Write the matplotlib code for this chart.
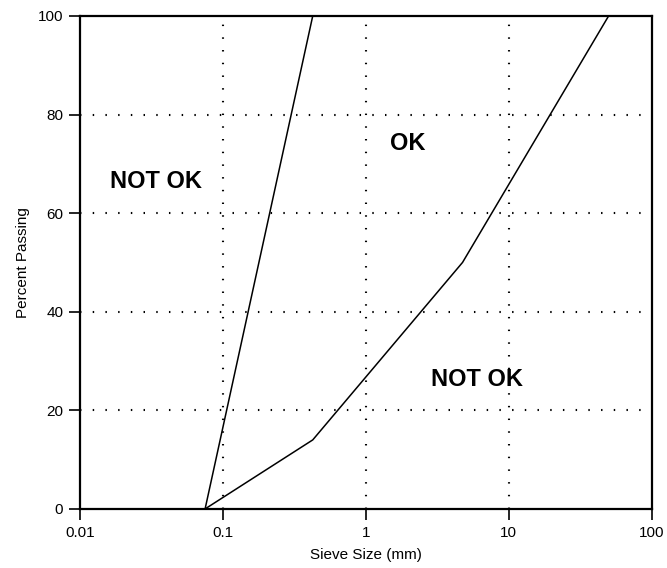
import matplotlib
matplotlib.use("Agg")
import matplotlib.pyplot as plt

plt.rcParams['font.family'] = ['Liberation Sans', 'DejaVu Sans']

# grading envelope (sieve size mm, percent passing)
fine_size = [0.075, 0.425]
fine_pass = [0, 100]
coarse_size = [0.075, 0.425, 4.75, 50]
coarse_pass = [0, 14, 50, 100]

zone_labels = ["NOT OK", "OK", "NOT OK"]
zone_x = [0.034, 1.95, 5.96]
zone_y = [66.5, 74.2, 26.2]

x_ticks = [0.01, 0.1, 1, 10, 100]
x_tick_labels = ["0.01", "0.1", "1", "10", "100"]
y_ticks = [0, 20, 40, 60, 80, 100]

fig = plt.figure(figsize=(6.67, 5.68), dpi=100)
ax = fig.add_axes([0.12, 0.104, 0.857, 0.868])

ax.set_xscale("log")
ax.set_xlim(0.01, 100)
ax.set_ylim(0, 100)

dots = (0, (0.7, 5.4))
for gx in [0.1, 1, 10]:
    ax.axvline(gx, color="black", lw=1.5, ls=dots, zorder=1)
for gy in [20, 40, 60, 80]:
    ax.axhline(gy, color="black", lw=1.5, ls=dots, zorder=1)

ax.plot(fine_size, fine_pass, color="black", lw=1.1, zorder=3)
ax.plot(coarse_size, coarse_pass, color="black", lw=1.1, zorder=3)

for lab, tx, ty in zip(zone_labels, zone_x, zone_y):
    ax.text(tx, ty, lab, ha="center", va="center", fontsize=17, fontweight="bold")

ax.set_xticks(x_ticks)
ax.set_xticklabels(x_tick_labels)
ax.minorticks_off()
ax.set_yticks(y_ticks)
ax.tick_params(axis="both", direction="out", length=8, width=1.2, labelsize=11, pad=4)

for s in ax.spines.values():
    s.set_linewidth(1.6)

ax.set_xlabel("Sieve Size (mm)", fontsize=11, labelpad=6)
ax.set_ylabel("Percent Passing", fontsize=11, labelpad=6)

plt.savefig("out.png", dpi=100)
plt.close()
